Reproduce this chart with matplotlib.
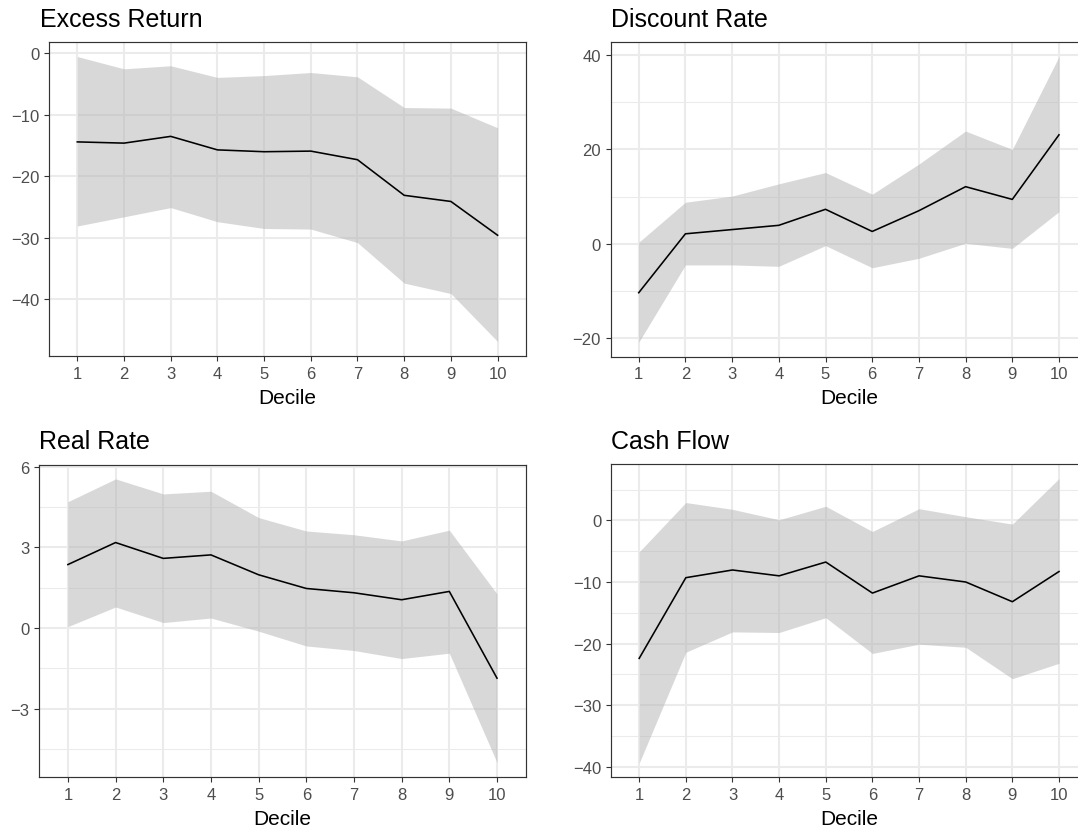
import numpy as np
import matplotlib
matplotlib.use("Agg")
from matplotlib import pyplot as plt

plt.rcParams['font.family'] = ['Liberation Sans', 'DejaVu Sans']

deciles = np.arange(1, 11)

excess_mean = [-14.4, -14.6, -13.5, -15.7, -16.0, -15.9, -17.3, -23.1, -24.1, -29.6]
excess_upper = [-0.5, -2.5, -2.0, -3.9, -3.6, -3.1, -3.8, -8.8, -8.9, -12.1]
excess_lower = [-28.1, -26.6, -25.1, -27.4, -28.5, -28.6, -30.8, -37.4, -39.1, -46.9]

discount_mean = [-10.4, 2.1, 3.0, 3.9, 7.3, 2.6, 7.0, 12.1, 9.4, 23.1]
discount_upper = [0.3, 8.8, 10.1, 12.7, 15.1, 10.5, 16.9, 23.9, 20.0, 39.7]
discount_lower = [-20.9, -4.5, -4.5, -4.8, -0.4, -5.1, -3.1, 0.1, -1.0, 6.8]

real_mean = [2.36, 3.18, 2.59, 2.72, 1.98, 1.47, 1.31, 1.05, 1.36, -1.87]
real_upper = [4.70, 5.55, 4.99, 5.09, 4.11, 3.61, 3.47, 3.24, 3.64, 1.27]
real_lower = [0.05, 0.78, 0.20, 0.37, -0.12, -0.67, -0.84, -1.14, -0.94, -5.01]

cash_mean = [-22.4, -9.3, -8.05, -9.0, -6.76, -11.8, -9.0, -10.0, -13.2, -8.3]
cash_upper = [-5.1, 2.9, 1.8, 0.1, 2.3, -1.8, 1.9, 0.6, -0.6, 6.8]
cash_lower = [-39.4, -21.4, -18.1, -18.2, -15.8, -21.6, -20.1, -20.6, -25.7, -23.2]

excess_ticks = [0, -10, -20, -30, -40]
discount_ticks = [-20, 0, 20, 40]
real_ticks = [-3, 0, 3, 6]
cash_ticks = [-40, -30, -20, -10, 0]

W, H = 1078, 829


def px_box(left, right, top, bottom):
    # pixel edges (top-left origin) -> figure fraction rect
    return [left / W, 1 - bottom / H, (right - left) / W, (bottom - top) / H]


def panel(fig, box, title, mean, lower, upper, yticks, title_left=None):
    ax = fig.add_axes(px_box(*box))
    ax.fill_between(deciles, lower, upper, color='#b3b3b3', alpha=0.5,
                    linewidth=0, zorder=2)
    ax.plot(deciles, mean, color='black', linewidth=1.15, zorder=3)

    ax.margins(x=0.6 / 9, y=0.05)
    ax.set_xticks(deciles)
    ax.set_yticks(yticks)
    # minor y lines half way between the major ones
    step = yticks[1] - yticks[0]
    lo, hi = ax.get_ylim()
    minors = np.arange(min(yticks) - step / 2, max(yticks) + step, step)
    ax.set_yticks([m for m in minors if lo <= m <= hi], minor=True)
    ax.set_ylim(lo, hi)

    ax.grid(True, which='major', color='#ebebeb', linewidth=1.5, zorder=0)
    ax.grid(True, which='minor', axis='y', color='#ebebeb', linewidth=0.75, zorder=0)
    ax.set_axisbelow(True)

    for s in ax.spines.values():
        s.set_color('#333333')
        s.set_linewidth(0.85)
    ax.tick_params(which='major', direction='out', length=3.6, width=0.8,
                   color='#333333', labelcolor='#4d4d4d', labelsize=12, pad=3.5)
    ax.tick_params(which='minor', length=0)
    ax.set_xlabel('Decile', fontsize=15, color='black', labelpad=5)

    tx = 0.0
    if title_left is not None:
        tx = (title_left - box[0]) / (box[1] - box[0])
    ax.set_title(title, loc='left', x=tx, fontsize=18, color='black', pad=12)
    return ax


fig = plt.figure(figsize=(W / 100, H / 100), dpi=100)

panel(fig, (49.3, 525.6, 43.3, 356.7), 'Excess Return',
      excess_mean, excess_lower, excess_upper, excess_ticks, title_left=40.5)
panel(fig, (610.7, 1087, 43.3, 357.5), 'Discount Rate',
      discount_mean, discount_lower, discount_upper, discount_ticks)
panel(fig, (39.3, 525.6, 465.7, 777.7), 'Real Rate',
      real_mean, real_lower, real_upper, real_ticks)
panel(fig, (611.2, 1087, 465.3, 778.3), 'Cash Flow',
      cash_mean, cash_lower, cash_upper, cash_ticks)

fig.savefig('out.png', dpi=100)
